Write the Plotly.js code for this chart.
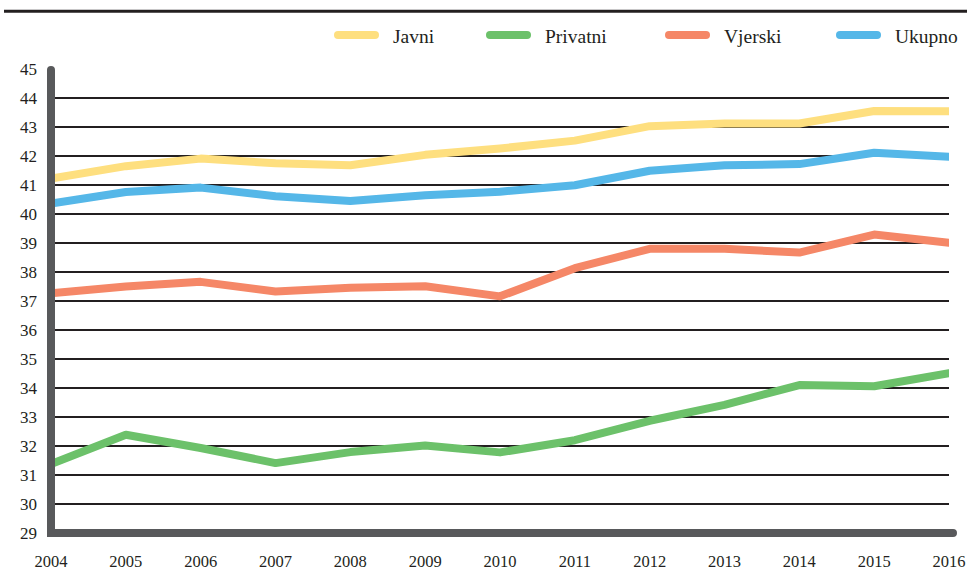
<!DOCTYPE html>
<html>
<head>
<meta charset="utf-8">
<script src="https://cdn.plot.ly/plotly-3.0.1.min.js"></script>
<style>
  html, body { margin: 0; padding: 0; background: #ffffff; }
  #chart { width: 967px; height: 578px; }
</style>
</head>
<body>
<div id="chart"></div>
<script>
// ---- data ----
var years = [2004, 2005, 2006, 2007, 2008, 2009, 2010, 2011, 2012, 2013, 2014, 2015, 2016];
var yearLabels = ["2004", "2005", "2006", "2007", "2008", "2009", "2010", "2011", "2012", "2013", "2014", "2015", "2016"];
var javni    = [41.22, 41.65, 41.91, 41.75, 41.68, 42.04, 42.26, 42.53, 43.03, 43.12, 43.12, 43.55, 43.54];
var privatni = [31.38, 32.39, 31.93, 31.41, 31.79, 32.02, 31.78, 32.20, 32.87, 33.42, 34.10, 34.06, 34.51];
var vjerski  = [37.27, 37.50, 37.66, 37.33, 37.46, 37.51, 37.16, 38.13, 38.80, 38.80, 38.67, 39.29, 39.01];
var ukupno   = [40.36, 40.76, 40.91, 40.61, 40.45, 40.65, 40.77, 40.99, 41.49, 41.68, 41.72, 42.11, 41.97];
var seriesNames = ["Javni", "Privatni", "Vjerski", "Ukupno"];
var yTicks = [29, 30, 31, 32, 33, 34, 35, 36, 37, 38, 39, 40, 41, 42, 43, 44, 45];

// ---- styles ----
var colors = ["#fedf7f", "#6cc16a", "#f58767", "#55b7e8"];
var FONT = "Liberation Serif, Times New Roman, serif";
var W = 967, H = 578;
var M = {l: 51, r: 18, t: 69, b: 45};
var pw = W - M.l - M.r, ph = H - M.t - M.b;
function px2x(px) { return (px - M.l) / pw; }
function py2y(py) { return (H - M.b - py) / ph; }

var seriesData = [javni, privatni, vjerski, ukupno];
var traces = seriesData.map(function (vals, i) {
  return {
    x: years, y: vals, type: "scatter", mode: "lines",
    name: seriesNames[i],
    line: {color: colors[i], width: 8},
    cliponaxis: false,
    hoverinfo: "x+y+name"
  };
});

var shapes = [];
var annotations = [];
// top rule
shapes.push({type: "line", xref: "paper", yref: "paper",
  x0: px2x(4), x1: px2x(967), y0: py2y(11.3), y1: py2y(11.3),
  line: {color: "#231f20", width: 3}});
// axis frame (left + bottom) as one path
shapes.push({type: "path", xref: "paper", yref: "paper", layer: "above",
  path: "M0," + py2y(70) + " L0,0 L" + px2x(953) + ",0",
  line: {color: "#58595b", width: 8}});

// legend
var legX = [334, 486, 665, 836];
var legY = 35;
for (var i = 0; i < seriesNames.length; i++) {
  shapes.push({type: "line", xref: "paper", yref: "paper",
    x0: px2x(legX[i] + 4), x1: px2x(legX[i] + 41), y0: py2y(legY), y1: py2y(legY),
    line: {color: colors[i], width: 8}});
  annotations.push({xref: "paper", yref: "paper", x: px2x(legX[i] + 57), y: py2y(legY + 1),
    xanchor: "left", yanchor: "middle", showarrow: false, text: seriesNames[i],
    font: {family: FONT, size: 19.5, color: "#231f20"}});
}

var layout = {
  width: W, height: H,
  margin: M,
  paper_bgcolor: "#ffffff", plot_bgcolor: "#ffffff",
  showlegend: false,
  font: {family: FONT, size: 17, color: "#231f20"},
  xaxis: {
    range: [2004, 2016], tickvals: years, ticktext: yearLabels,
    showgrid: false, zeroline: false, showline: false, ticks: "",
    ticklabelstandoff: 16, ticklabeloverflow: "allow",
    tickfont: {family: FONT, size: 16.5, color: "#231f20"}
  },
  yaxis: {
    range: [29, 45], tickvals: yTicks, ticktext: yTicks.map(String),
    showgrid: true, gridcolor: "#231f20", gridwidth: 1.4,
    zeroline: false, showline: false, ticks: "",
    ticklabelstandoff: 13,
    tickfont: {family: FONT, size: 17, color: "#231f20"}
  },
  shapes: shapes,
  annotations: annotations
};

Plotly.newPlot("chart", traces, layout, {staticPlot: true, displayModeBar: false}).then(function (gd) {
  var lines = gd.querySelectorAll(".scatterlayer path.js-line");
  lines.forEach(function (p) { p.style.strokeLinecap = "round"; p.style.strokeLinejoin = "round"; });
  var sp = gd.querySelectorAll(".shapelayer path");
  sp.forEach(function (p, k) {
    if (k === 0) return;
    p.style.strokeLinecap = "round";
    p.style.strokeLinejoin = "miter";
  });
});
</script>
</body>
</html>
